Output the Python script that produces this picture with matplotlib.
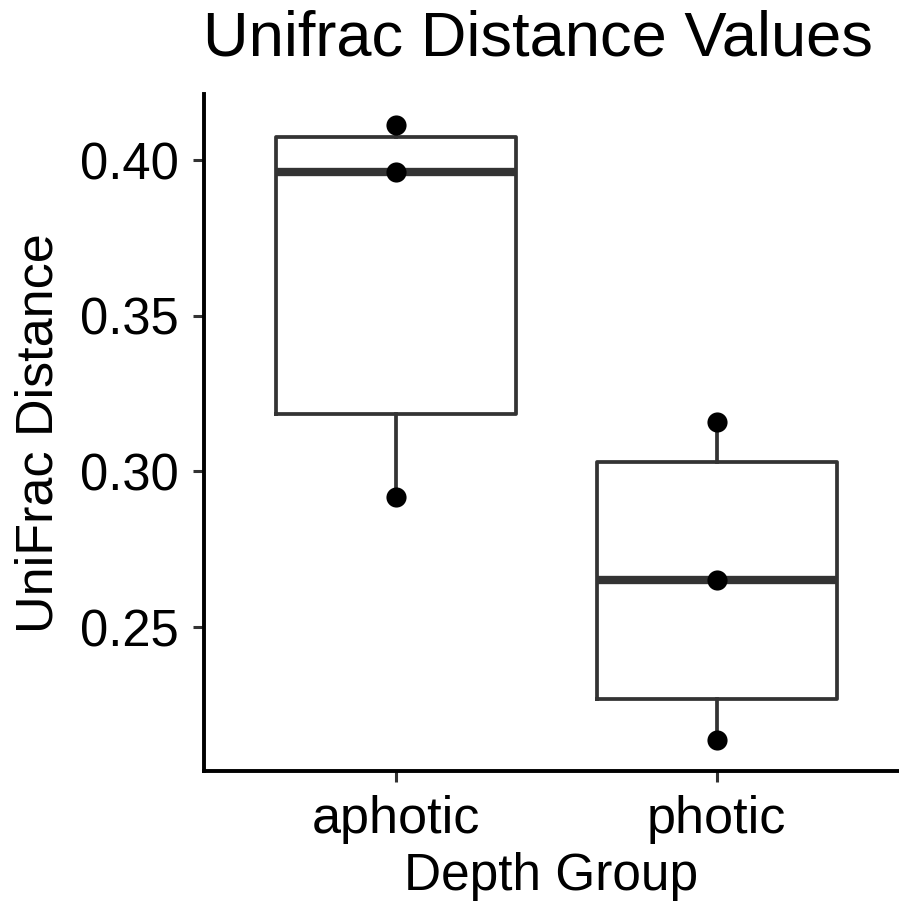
import matplotlib
matplotlib.use("Agg")
import matplotlib.pyplot as plt

plt.rcParams['font.family'] = ['Liberation Sans', 'DejaVu Sans']

# depth groups and per-sample UniFrac distances
groups = ['aphotic', 'photic']
aphotic_vals = [0.4112, 0.3962, 0.2918]
photic_vals = [0.3160, 0.2651, 0.2137]

# box summaries (lower whisker, Q1, median, Q3, upper whisker)
whis_lo = [0.2918, 0.2137]
q1 = [0.3184, 0.2269]
med = [0.3962, 0.2651]
q3 = [0.4075, 0.3031]
whis_hi = [0.4112, 0.3160]

W, H = 899, 907
fig = plt.figure(figsize=(W / 100, H / 100), dpi=100)
ax = fig.add_axes([204 / W, (H - 771) / H, (W - 204) / W, (771 - 94.3) / H])

box_col = '#333333'
stats = []
for i, g in enumerate(groups):
    stats.append(dict(label=g, whislo=whis_lo[i], q1=q1[i], med=med[i],
                      q3=q3[i], whishi=whis_hi[i], fliers=[]))

ax.bxp(stats, positions=[1, 2], widths=0.75, showcaps=False,
       boxprops=dict(color=box_col, linewidth=2.7),
       whiskerprops=dict(color=box_col, linewidth=2.7),
       medianprops=dict(color=box_col, linewidth=6, solid_capstyle='butt'),
       zorder=2)

for i, vals in enumerate([aphotic_vals, photic_vals]):
    ax.plot([i + 1] * len(vals), vals, 'o', color='black', markersize=14.5,
            markeredgewidth=0, zorder=3)

ax.set_xlim(0.4, 0.4 + 695 / 320.5)
ax.set_ylim(0.2038, 0.4211)
ax.set_xticks([1, 2])
ax.set_xticklabels(groups)
ax.set_yticks([0.25, 0.30, 0.35, 0.40])
ax.set_yticklabels(['0.25', '0.30', '0.35', '0.40'])

for side in ['top', 'right']:
    ax.spines[side].set_visible(False)
for side in ['left', 'bottom']:
    ax.spines[side].set_linewidth(2.8)
    ax.spines[side].set_color('black')
    ax.spines[side].set_capstyle('projecting')

ax.tick_params(axis='both', length=8, width=2.2, color=box_col,
               labelcolor='black')
ax.tick_params(axis='y', pad=10, labelsize=36.5)
ax.tick_params(axis='x', pad=9, labelsize=37.5)

ax.set_xlabel('Depth Group', fontsize=37, labelpad=6)
ax.set_ylabel('UniFrac Distance', fontsize=37.5, labelpad=12)

fig.text(538 / W, 1 - 55 / H, 'Unifrac Distance Values', fontsize=45.5,
         ha='center', va='baseline')

fig.savefig('out.png', dpi=100)
